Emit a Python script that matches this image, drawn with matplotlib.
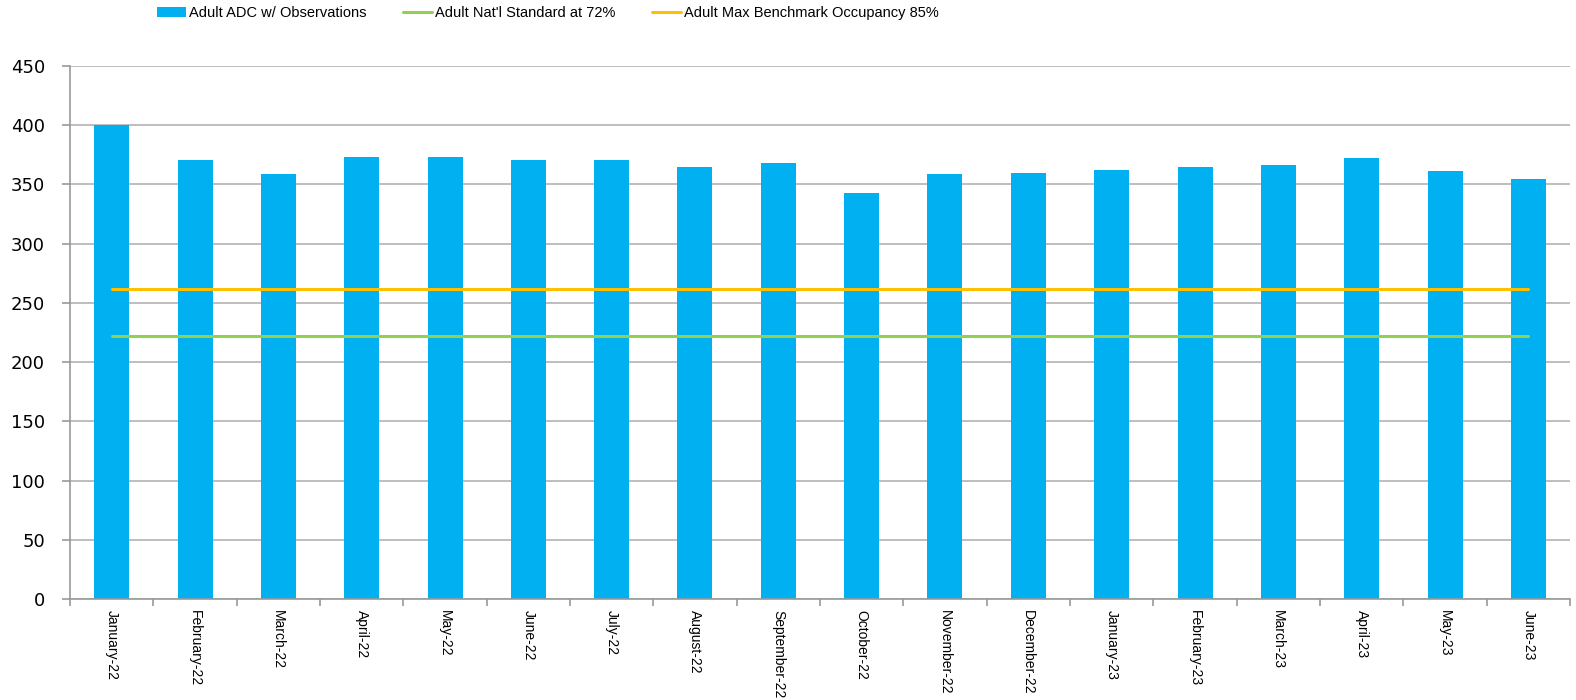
import matplotlib
matplotlib.use("Agg")
import matplotlib.pyplot as plt

MONTHS = [
    "January-22", "February-22", "March-22", "April-22", "May-22", "June-22",
    "July-22", "August-22", "September-22", "October-22", "November-22",
    "December-22", "January-23", "February-23", "March-23", "April-23",
    "May-23", "June-23",
]
ADC = [400, 371, 359, 373, 373, 371, 371, 365, 368, 343, 359, 360,
       362, 365, 366, 372, 361, 355]
NAT_STANDARD = [222] * len(MONTHS)
MAX_BENCHMARK = [262] * len(MONTHS)

BAR_COLOR = "#00b0f0"
GREEN = "#92d050"
YELLOW = "#ffc000"

fig = plt.figure(figsize=(15.76, 7.0), dpi=100)
ax = fig.add_axes([70 / 1576, 101 / 700, 1500 / 1576, 533 / 700])

x = list(range(len(MONTHS)))
bars = ax.bar(x, ADC, width=0.42, color=BAR_COLOR, label="Adult ADC w/ Observations", zorder=2)
l1, = ax.plot(x, NAT_STANDARD, color=GREEN, linewidth=2.2, label="Adult Nat'l Standard at 72%",
              zorder=3, solid_capstyle="round")
l2, = ax.plot(x, MAX_BENCHMARK, color=YELLOW, linewidth=2.2,
              label="Adult Max Benchmark Occupancy 85%", zorder=3, solid_capstyle="round")

ax.set_xlim(-0.5, len(MONTHS) - 0.5)
ax.set_ylim(0, 450)
ax.set_yticks(range(0, 451, 50))
ax.grid(axis="y", color="#b3b3b3", linewidth=1.2, zorder=0)
ax.set_axisbelow(True)

for s in ["top", "right"]:
    ax.spines[s].set_visible(False)
for s in ["left", "bottom"]:
    ax.spines[s].set_color("#999999")
    ax.spines[s].set_linewidth(1.2)

ax.set_xticks(x)
ax.set_xticklabels(MONTHS, rotation=-90, fontsize=10, family="Liberation Sans")
ax.tick_params(axis="x", length=0, pad=8)
ax.set_xticks([i - 0.5 for i in range(len(MONTHS) + 1)], minor=True)
ax.tick_params(axis="x", which="minor", length=5, color="#999999", width=1.2)
ax.tick_params(axis="y", length=6, color="#999999", width=1.2, labelsize=13, pad=12)

fig.legend(handles=[bars, l1, l2], loc="upper left", bbox_to_anchor=(144 / 1576, 1.01),
           ncol=3, frameon=False, columnspacing=2.5, handlelength=2.0, handletextpad=0.2,
           prop={"family": "Liberation Sans", "size": 10.5})

fig.savefig("out.png", dpi=100)
